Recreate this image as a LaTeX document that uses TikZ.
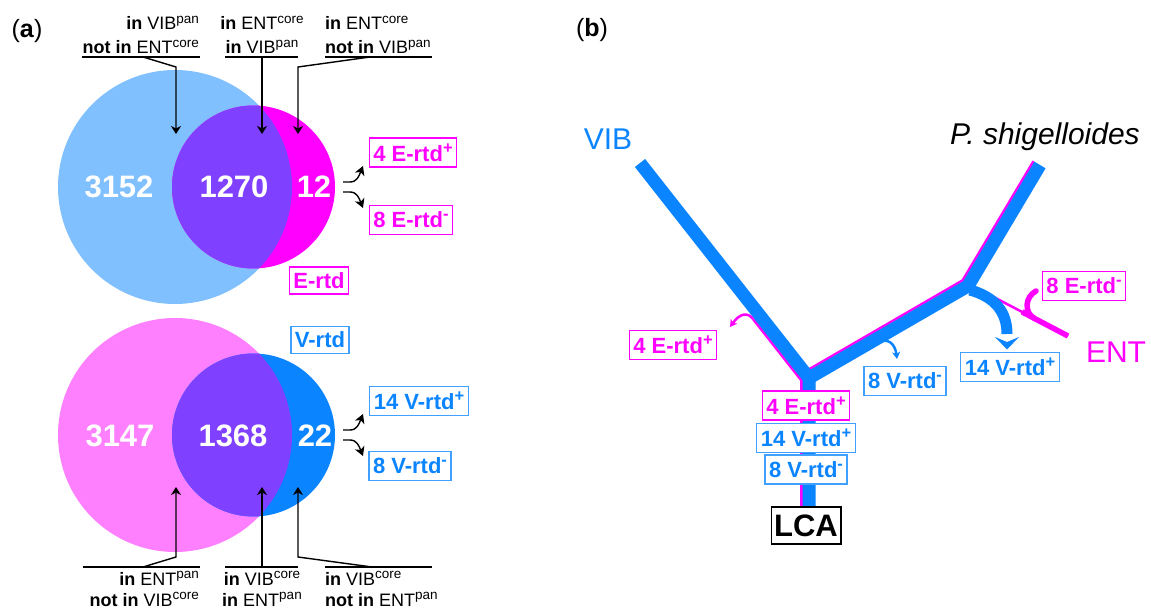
\documentclass[tikz,border=0pt]{standalone}
\usepackage{fontspec}
\setmainfont{Liberation Sans}
\usetikzlibrary{arrows.meta,calc}
\definecolor{lblue}{HTML}{80C0FF}
\definecolor{vblue}{HTML}{0A84FF}
\definecolor{purp}{HTML}{8040FF}
\definecolor{mag}{HTML}{FF00FF}
\definecolor{pinkc}{HTML}{FF80FF}
\definecolor{bbord}{HTML}{40A0FF}
\newcommand{\myup}[1]{\raisebox{0.36em}{\scalebox{0.75}{#1}}}
\begin{document}
\begin{tikzpicture}[x=1pt,y=-1pt,
  num/.style={text=white,font=\bfseries\fontsize{31}{31}\selectfont,inner sep=0pt},
  lab/.style={font=\fontsize{18}{18}\selectfont,inner sep=0pt},
  rbox/.style={line width=1.3pt,fill=white,font=\bfseries\fontsize{22}{22}\selectfont,inner xsep=4pt,inner ysep=0pt,minimum height=29pt},
  ebox/.style={rbox,draw=mag,text=mag},
  vbox/.style={rbox,draw=bbord,text=vblue},
  ptr/.style={line width=1.4pt,-{Stealth[length=8pt,width=10pt,inset=2.5pt]}},
  fork/.style={line width=1.4pt,-{Stealth[length=9pt,width=10pt,inset=2.5pt]}},
  uline/.style={line width=1.2pt},
  tree/.style={line width=13pt,vblue},
  mline/.style={line width=2.5pt,mag},
  panel/.style={font=\fontsize{25}{25}\selectfont,inner sep=0pt,anchor=base},
  taxon/.style={font=\fontsize{30}{30}\selectfont,inner sep=0pt},
]
\useasboundingbox (0,0) rectangle (1151,609);
\fill[white] (0,0) rectangle (1151,609);

% ---------- panel labels
\node[panel] (pa) at (27,38) {(\textbf{a})};
\node[panel] (pb) at (592,37) {(\textbf{b})};

% ---------- top Venn
\fill[lblue] (175,187) circle[radius=117pt];
\fill[mag] (253.5,187) circle[radius=81.5pt];
\begin{scope}
  \clip (175,187) circle[radius=117pt];
  \fill[purp] (253.5,187) circle[radius=81.5pt];
\end{scope}
\node[num] (n3152) at (119,187) {3152};
\node[num] (n1270) at (234,187) {1270};
\node[num] (n12) at (314,187) {12};

% ---------- bottom Venn
\fill[pinkc] (175,435) circle[radius=117pt];
\fill[vblue] (253.5,435) circle[radius=81.5pt];
\begin{scope}
  \clip (175,435) circle[radius=117pt];
  \fill[purp] (253.5,435) circle[radius=81.5pt];
\end{scope}
\node[num] (n3147) at (120,436) {3147};
\node[num] (n1368) at (233,436) {1368};
\node[num] (n22) at (315,436) {22};

% ---------- top labels
\node[lab,anchor=base east] (tl1) at (199,30) {\textbf{in} VIB\myup{pan}};
\node[lab,anchor=base east] (tl2) at (199,54) {\textbf{not in} ENT\myup{core}};
\node[lab,anchor=base] (tm1) at (262,30) {\textbf{in} ENT\myup{core}};
\node[lab,anchor=base] (tm2) at (262,54) {\textbf{in} VIB\myup{pan}};
\node[lab,anchor=base west] (tr1) at (325,30) {\textbf{in} ENT\myup{core}};
\node[lab,anchor=base west] (tr2) at (325,54) {\textbf{not in} VIB\myup{pan}};

\coordinate (tlA) at (82,57);  \coordinate (tlB) at (200,57);
\coordinate (tmA) at (225,57); \coordinate (tmB) at (298,57);
\coordinate (trA) at (325,57); \coordinate (trB) at (432,57);
\draw[uline] (tlA) -- (tlB);
\draw[uline] (tmA) -- (tmB);
\draw[uline] (trA) -- (trB);

\coordinate (tls) at (143,57); \coordinate (tlk) at (176,67); \coordinate (tlt) at (176,134);
\coordinate (tms) at (262,57); \coordinate (tmt) at (262,134);
\coordinate (trs) at (370,57); \coordinate (trk) at (298,67); \coordinate (trt) at (298,134);
\draw[ptr] (tls) -- (tlk) -- (tlt);
\draw[ptr] (tms) -- (tmt);
\draw[ptr] (trs) -- (trk) -- (trt);

% ---------- bottom labels
\node[lab,anchor=base east] (bl1) at (199,585) {\textbf{in} ENT\myup{pan}};
\node[lab,anchor=base east] (bl2) at (199,606) {\textbf{not in} VIB\myup{core}};
\node[lab,anchor=base] (bm1) at (262,585) {\textbf{in} VIB\myup{core}};
\node[lab,anchor=base] (bm2) at (262,606) {\textbf{in} ENT\myup{pan}};
\node[lab,anchor=base west] (br1) at (325,585) {\textbf{in} VIB\myup{core}};
\node[lab,anchor=base west] (br2) at (325,606) {\textbf{not in} ENT\myup{pan}};

\coordinate (blA) at (83,567);  \coordinate (blB) at (200,567);
\coordinate (bmA) at (225,567); \coordinate (bmB) at (298,567);
\coordinate (brA) at (325,567); \coordinate (brB) at (432,567);
\draw[uline] (blA) -- (blB);
\draw[uline] (bmA) -- (bmB);
\draw[uline] (brA) -- (brB);

\coordinate (bls) at (143,567); \coordinate (blk) at (176,557); \coordinate (blt) at (176,487);
\coordinate (bms) at (262,567); \coordinate (bmt) at (262,487);
\coordinate (brs) at (372,567); \coordinate (brk) at (298,557); \coordinate (brt) at (298,487);
\draw[ptr] (bls) -- (blk) -- (blt);
\draw[ptr] (bms) -- (bmt);
\draw[ptr] (brs) -- (brk) -- (brt);

% ---------- panel (a) boxes
\node[ebox] (aE4) at (413,152.5) {4 E-rtd\myup{+}};
\node[ebox] (aE8) at (411,220) {8 E-rtd\myup{-}};
\node[ebox,minimum height=27pt] (aE) at (319,280.5) {E-rtd};
\node[vbox,minimum height=27pt] (aV) at (320,340) {V-rtd};
\node[vbox] (aV14) at (419,401) {14 V-rtd\myup{+}};
\node[vbox] (aV8) at (410,466) {8 V-rtd\myup{-}};

% fork arrows
\coordinate (f1s) at (343,182); \coordinate (f1k) at (350,182); \coordinate (f1t) at (363,166);
\coordinate (f2s) at (343,192); \coordinate (f2k) at (350,192); \coordinate (f2t) at (363,208);
\draw[fork] (f1s) -- (f1k) .. controls (357,182) and (359,176) .. (f1t);
\draw[fork] (f2s) -- (f2k) .. controls (357,192) and (359,198) .. (f2t);
\coordinate (g1s) at (343,430); \coordinate (g1k) at (350,430); \coordinate (g1t) at (363,414);
\coordinate (g2s) at (343,440); \coordinate (g2k) at (350,440); \coordinate (g2t) at (363,456);
\draw[fork] (g1s) -- (g1k) .. controls (357,430) and (359,424) .. (g1t);
\draw[fork] (g2s) -- (g2k) .. controls (357,440) and (359,446) .. (g2t);

% ---------- panel (b) tree
\coordinate (vibtip) at (640,163);
\coordinate (J1) at (809,378);
\coordinate (root) at (809,508);
\coordinate (J2) at (968,286);
\coordinate (ptip) at (1040,165);
\coordinate (enttip) at (1068,336);

% magenta lines
\draw[mline] (753,319) -- (801.5,380.6);
\draw[mline] (801.5,373.7) -- (801.5,508);
\draw[mline,line join=miter] (801.5,373.7) -- (962.6,280.4) -- (1033.55,161.16);
\draw[mline] (963,281) -- (enttip);
\draw[mag,line width=5.5pt] (1022,311.9) -- (enttip);
\draw[mag,line width=5.5pt,line cap=round] (1034,318.2) .. controls (1024,312) and (1025,297) .. (1036,291);

% blue tree
\draw[tree,line join=round] (vibtip) -- (J1) -- (root);
\draw[tree,line join=round] (J1) -- (J2) -- (ptip);

% V-rtd arrows
\draw[vblue,line width=11pt] (970,290) .. controls (995,297) and (1007,312) .. (1007,334);
\fill[vblue] (995,337) -- (1007,342) -- (1019,337) -- (1007,349.5) -- cycle;
\draw[vblue,line width=2.5pt,-{Stealth[length=7pt,width=8pt,inset=2pt]}] (877,343) .. controls (887,337) and (895,343) .. (897,359);
\draw[mag,line width=2.5pt,-{Stealth[length=7pt,width=8pt,inset=2pt]}] (753,319) .. controls (748,312) and (740,313) .. (730,327);

% taxa
\node[taxon,text=vblue] (vib) at (608,139) {VIB};
\node[taxon,anchor=base] (pshig) at (1045,145) {\itshape P. shigelloides};
\node[taxon,text=mag] (ent) at (1116,352) {ENT};

% boxes in (b)
\node[ebox] (bE4) at (673,345) {4 E-rtd\myup{+}};
\node[vbox] (bV8) at (905,381) {8 V-rtd\myup{-}};
\node[vbox] (bV14) at (1010,367) {14 V-rtd\myup{+}};
\node[ebox] (bE8) at (1084,286) {8 E-rtd\myup{-}};
\node[ebox] (sE4) at (806,405.5) {4 E-rtd\myup{+}};
\node[vbox] (sV14) at (806,438) {14 V-rtd\myup{+}};
\node[vbox] (sV8) at (806,469.5) {8 V-rtd\myup{-}};
\node[draw=black,line width=1.3pt,fill=white,font=\bfseries\fontsize{31}{31}\selectfont,inner xsep=3pt,inner ysep=0pt,minimum height=37pt] (lca) at (806,525.5) {LCA};
\end{tikzpicture}
\end{document}
